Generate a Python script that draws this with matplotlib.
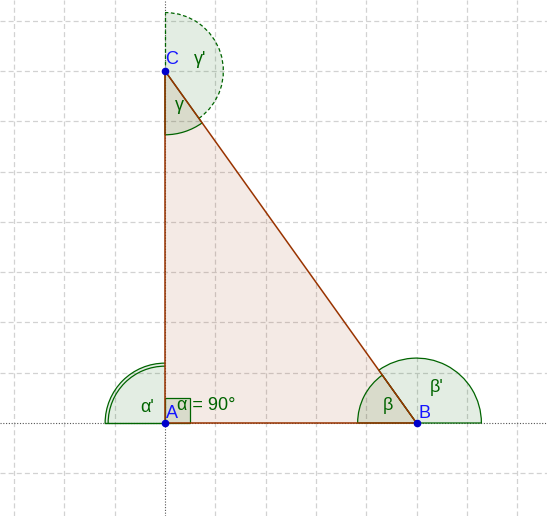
import numpy as np
import matplotlib
matplotlib.use("Agg")
import matplotlib.pyplot as plt
from matplotlib.patches import Polygon, Wedge, Rectangle, Arc

# ---- data ----
point_names = ["A", "B", "C"]
point_x = [0.0, 5.0, 0.0]
point_y = [0.0, 0.0, 7.0]
angle_labels = ["α", "β", "γ"]
exterior_labels = ["α'", "β'", "γ'"]
alpha_text = "α = 90°"

plt.rcParams['font.family'] = ['Liberation Sans', 'DejaVu Sans']

W, H = 547, 516
unit = 50.3
ox, oy = 165, 423
fig = plt.figure(figsize=(W / 100, H / 100), dpi=100)
ax = fig.add_axes([0, 0, 1, 1])
ax.set_xlim(-ox / unit, (W - ox) / unit)
ax.set_ylim(-(H - oy) / unit, oy / unit)
ax.set_aspect('auto')
ax.axis('off')

grid_c = '#d2d2d2'
for gx in range(-3, 8):
    if gx != 0:
        ax.axvline(gx, color=grid_c, lw=0.9, ls=(0, (4, 2.5)), zorder=0)
for gy in range(-1, 9):
    if gy != 0:
        ax.axhline(gy, color=grid_c, lw=0.9, ls=(0, (4, 2.5)), zorder=0)
ax.axhline(0, color='#555555', lw=0.8, ls=(0, (1, 1.5)), zorder=0.5)
ax.axvline(0, color='#555555', lw=0.8, ls=(0, (1, 1.5)), zorder=0.5)

brown = (153 / 255, 51 / 255, 0)
green = (0, 100 / 255, 0)
gfill = (0, 100 / 255, 0, 0.11)
blue = '#1515ff'

A = np.array([point_x[0], point_y[0]])
B = np.array([point_x[1], point_y[1]])
C = np.array([point_x[2], point_y[2]])

def ang(p, q):
    d = q - p
    return np.degrees(np.arctan2(d[1], d[0]))

# triangle fill
tri = Polygon([A, B, C], closed=True, facecolor=(*brown, 0.1), edgecolor='none', zorder=1)
ax.add_patch(tri)

# alpha' (exterior at A) quarter, double arc
r_out, r_in = 1.19, 1.13
ax.add_patch(Wedge(A, r_out, 90, 180, facecolor=gfill, edgecolor='none', zorder=2))
ax.add_patch(Arc(A, 2 * r_out, 2 * r_out, theta1=90, theta2=180, color=green, lw=0.9, zorder=3))
ax.add_patch(Arc(A, 2 * r_in, 2 * r_in, theta1=90, theta2=180, color=green, lw=0.9, zorder=3))
ax.plot([A[0] - r_out, A[0]], [A[1], A[1]], color=green, lw=1.0, zorder=3)

# alpha right angle square
sq = 0.5
ax.add_patch(Rectangle(A, sq, sq, facecolor=gfill, edgecolor=green, lw=0.9, zorder=3))

# beta at B
a_BC = ang(B, C)
ax.add_patch(Wedge(B, 1.17, a_BC, 180, facecolor=gfill, edgecolor=green, lw=0.9, zorder=3))
ax.add_patch(Wedge(B, 1.29, 0, a_BC, facecolor=gfill, edgecolor=green, lw=0.9, zorder=3))

# gamma at C
a_CB = ang(C, B)
ax.add_patch(Wedge(C, 1.27, 270, a_CB + 360, facecolor=gfill, edgecolor=green, lw=0.9, zorder=3))
ax.add_patch(Wedge(C, 1.16, a_CB, 90, facecolor=gfill, edgecolor='none', zorder=2))
ax.add_patch(Arc(C, 2 * 1.16, 2 * 1.16, theta1=a_CB, theta2=90, color=green, lw=0.9,
                 ls=(0, (3, 2)), zorder=3))
ax.plot([C[0], C[0]], [C[1], C[1] + 1.16], color=green, lw=0.9, ls=(0, (3, 2)), zorder=3)

# triangle edges
ax.plot([A[0], B[0], C[0], A[0]], [A[1], B[1], C[1], A[1]], color=brown, lw=1.1, zorder=4)

# points
ax.plot(point_x, point_y, 'o', color='#0000cc', ms=4.5, zorder=6)

# labels
def px(x, y):
    return (x - ox) / unit, (oy - y) / unit

fs = 13
lab_pos = {"A": (172, 413), "B": (424.5, 414), "C": (172, 60)}
for n in point_names:
    ax.text(*px(*lab_pos[n]), n, color=blue, fontsize=fs, ha='center', va='center', zorder=7)

ax.text(*px(179, 106), angle_labels[2], color=green, fontsize=fs, ha='center', va='center', zorder=7)
ax.text(*px(388, 405), angle_labels[1], color=green, fontsize=fs, ha='center', va='center', zorder=7)
ax.text(*px(200, 59), exterior_labels[2], color=green, fontsize=fs, ha='center', va='center', zorder=7)
ax.text(*px(437, 388), exterior_labels[1], color=green, fontsize=fs, ha='center', va='center', zorder=7)
ax.text(*px(147, 407), exterior_labels[0], color=green, fontsize=fs, ha='center', va='center', zorder=7)
ax.text(*px(177, 406), alpha_text, color=green, fontsize=fs, ha='left', va='center', zorder=7)

fig.savefig('out.png', dpi=100)
